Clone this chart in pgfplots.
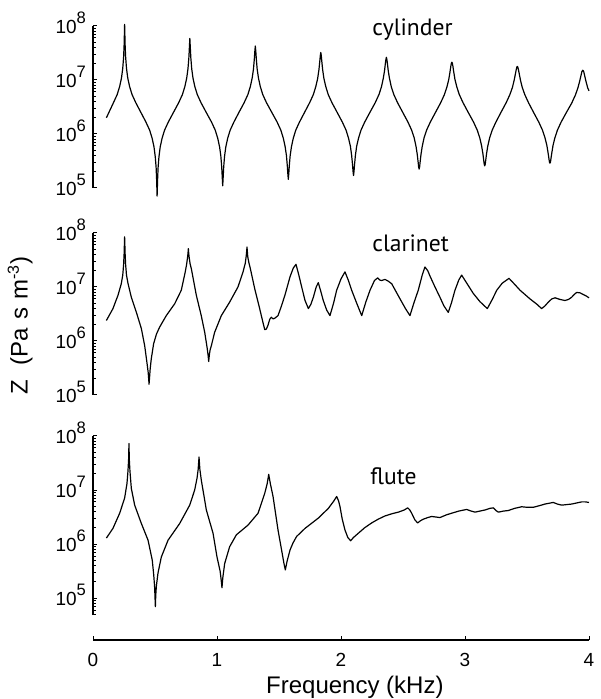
\documentclass[border=0pt]{standalone}
\usepackage{pgfplots}
\pgfplotsset{compat=1.18}
\usepackage{fontspec}
\setmainfont{Liberation Sans}
\newfontfamily\labelfont{PT Sans}

% 10^n written in the text font, exponent nearly full size as in the original
\newcommand{\tenpow}[1]{10\raisebox{4.8pt}{\fontsize{8.3pt}{8.3pt}\selectfont #1}}
\newcommand{\tickfont}{\fontsize{9.5pt}{10pt}\selectfont}
\newcommand{\panelfont}{\labelfont\fontsize{11.8pt}{12pt}\selectfont}

\pgfplotsset{every axis/.append style={
  axis line style={-, line width=0.6pt},
  tick style={line width=0.5pt, black},
  tick align=inside, major tick length=2.2pt, minor tick length=1.3pt,
}}

\begin{document}
\begin{tikzpicture}

% cylinder
\begin{axis}[scale only axis, width=248pt, height=81pt,
  at={(0,0)}, anchor=north west,
  xmin=0, xmax=4, ymode=log, ymin=1e5, ymax=1e8,
  axis x line=none, axis y line*=left, clip=false,
  ytick={1e5,1e6,1e7,1e8},
  yticklabels={\tenpow{5},\tenpow{6},\tenpow{7},\tenpow{8}},
  minor ytick={2e5,3e5,4e5,5e5,6e5,7e5,8e5,9e5,2e6,3e6,4e6,5e6,6e6,7e6,8e6,9e6,2e7,3e7,4e7,5e7,6e7,7e7,8e7,9e7},
  yticklabel style={anchor=base east, yshift=-3.6pt, font=\tickfont}]
\addplot[black, line width=0.6pt, line join=round] table[x index=0, y expr=10^\thisrowno{1}] {
f logZ
0.108 6.30
0.165 6.58
0.195 6.73
0.215 6.88
0.230 7.04
0.240 7.22
0.247 7.43
0.251 7.65
0.255 8.03
0.259 7.65
0.263 7.43
0.270 7.22
0.280 7.04
0.295 6.88
0.315 6.73
0.345 6.58
0.386 6.40
0.427 6.22
0.457 6.07
0.477 5.92
0.492 5.76
0.502 5.58
0.509 5.38
0.513 5.16
0.517 4.85
0.521 5.16
0.525 5.38
0.532 5.58
0.542 5.76
0.557 5.92
0.577 6.07
0.607 6.22
0.649 6.40
0.691 6.58
0.721 6.73
0.741 6.88
0.756 7.04
0.766 7.21
0.773 7.41
0.777 7.59
0.781 7.77
0.785 7.59
0.789 7.41
0.796 7.21
0.806 7.04
0.821 6.88
0.841 6.73
0.871 6.58
0.913 6.40
0.956 6.22
0.986 6.07
1.006 5.92
1.021 5.76
1.031 5.59
1.038 5.39
1.042 5.21
1.046 5.04
1.050 5.21
1.054 5.39
1.061 5.59
1.071 5.76
1.086 5.92
1.106 6.07
1.136 6.22
1.177 6.40
1.219 6.58
1.249 6.73
1.269 6.88
1.284 7.04
1.294 7.20
1.301 7.39
1.305 7.53
1.309 7.63
1.313 7.53
1.317 7.39
1.324 7.20
1.334 7.04
1.349 6.88
1.369 6.73
1.399 6.58
1.442 6.40
1.485 6.22
1.515 6.07
1.535 5.92
1.550 5.76
1.560 5.60
1.567 5.41
1.571 5.27
1.575 5.16
1.579 5.27
1.583 5.41
1.590 5.60
1.600 5.76
1.615 5.92
1.635 6.07
1.665 6.22
1.706 6.40
1.747 6.58
1.777 6.73
1.797 6.88
1.812 7.03
1.822 7.19
1.829 7.35
1.833 7.45
1.837 7.51
1.841 7.45
1.845 7.35
1.852 7.19
1.862 7.03
1.877 6.88
1.897 6.73
1.927 6.58
1.969 6.40
2.011 6.22
2.041 6.07
2.061 5.92
2.076 5.77
2.086 5.60
2.093 5.43
2.097 5.31
2.101 5.23
2.105 5.31
2.109 5.43
2.116 5.60
2.126 5.77
2.141 5.92
2.161 6.07
2.191 6.22
2.233 6.40
2.276 6.58
2.306 6.73
2.326 6.87
2.341 7.03
2.351 7.17
2.358 7.31
2.362 7.38
2.366 7.42
2.370 7.38
2.374 7.31
2.381 7.17
2.391 7.03
2.406 6.87
2.426 6.73
2.456 6.58
2.498 6.40
2.540 6.22
2.570 6.07
2.590 5.93
2.605 5.77
2.615 5.62
2.622 5.48
2.626 5.39
2.630 5.35
2.634 5.39
2.638 5.48
2.645 5.62
2.655 5.77
2.670 5.93
2.690 6.07
2.720 6.22
2.762 6.40
2.804 6.58
2.834 6.73
2.854 6.87
2.869 7.01
2.879 7.15
2.886 7.26
2.890 7.31
2.894 7.33
2.898 7.31
2.902 7.26
2.909 7.15
2.919 7.01
2.934 6.87
2.954 6.73
2.984 6.58
3.026 6.40
3.069 6.22
3.099 6.07
3.119 5.93
3.134 5.78
3.144 5.64
3.151 5.51
3.155 5.44
3.159 5.41
3.163 5.44
3.167 5.51
3.174 5.64
3.184 5.78
3.199 5.93
3.219 6.07
3.249 6.22
3.290 6.40
3.332 6.58
3.362 6.73
3.382 6.86
3.397 7.00
3.407 7.12
3.414 7.20
3.418 7.24
3.422 7.25
3.426 7.24
3.430 7.20
3.437 7.12
3.447 7.00
3.462 6.86
3.482 6.73
3.512 6.58
3.553 6.40
3.595 6.22
3.625 6.07
3.645 5.93
3.660 5.79
3.670 5.65
3.677 5.54
3.681 5.48
3.685 5.46
3.689 5.48
3.693 5.54
3.700 5.65
3.710 5.79
3.725 5.93
3.745 6.07
3.775 6.22
3.818 6.40
3.860 6.57
3.890 6.72
3.910 6.85
3.925 6.98
3.935 7.08
3.942 7.15
3.946 7.17
3.950 7.18
3.954 7.17
3.958 7.15
3.965 7.08
3.975 6.98
3.990 6.85
4.000 6.80
};
\node[anchor=base west, inner sep=0pt, font=\panelfont] at (axis cs:2.25,6.53e7) {cylinder};
\end{axis}

% clarinet
\begin{axis}[scale only axis, width=248pt, height=81pt,
  at={(0,-103.5pt)}, anchor=north west,
  xmin=0, xmax=4, ymode=log, ymin=1e5, ymax=1e8,
  axis x line=none, axis y line*=left, clip=false,
  ytick={1e5,1e6,1e7,1e8},
  yticklabels={\tenpow{5},\tenpow{6},\tenpow{7},\tenpow{8}},
  minor ytick={2e5,3e5,4e5,5e5,6e5,7e5,8e5,9e5,2e6,3e6,4e6,5e6,6e6,7e6,8e6,9e6,2e7,3e7,4e7,5e7,6e7,7e7,8e7,9e7},
  yticklabel style={anchor=base east, yshift=-3.6pt, font=\tickfont},
  ylabel={Z\hspace{0.6em}(Pa\hspace{0.33em}s\hspace{0.33em}m\textsuperscript{-3})},
  ylabel style={at={(axis description cs:-0.121,0.43)}, anchor=south, inner sep=0pt, font=\fontsize{12pt}{12.5pt}\selectfont}]
\addplot[black, line width=0.6pt, line join=round] table[x index=0, y expr=10^\thisrowno{1}] {
f logZ
0.108 6.38
0.161 6.60
0.202 6.85
0.228 7.06
0.240 7.22
0.247 7.42
0.251 7.62
0.255 7.93
0.259 7.62
0.263 7.42
0.270 7.22
0.282 7.07
0.309 6.81
0.350 6.53
0.390 6.23
0.417 5.91
0.435 5.60
0.445 5.42
0.449 5.30
0.452 5.20
0.456 5.32
0.461 5.48
0.470 5.67
0.489 5.95
0.512 6.13
0.538 6.26
0.591 6.47
0.659 6.69
0.712 6.94
0.744 7.28
0.755 7.42
0.762 7.54
0.766 7.62
0.769 7.71
0.772 7.62
0.776 7.54
0.783 7.43
0.793 7.34
0.833 6.85
0.873 6.47
0.901 6.16
0.920 5.88
0.928 5.74
0.933 5.62
0.938 5.74
0.945 5.84
0.954 5.91
0.981 6.16
1.035 6.47
1.102 6.72
1.169 7.00
1.210 7.28
1.228 7.44
1.236 7.58
1.242 7.74
1.248 7.56
1.257 7.45
1.269 7.34
1.304 6.97
1.344 6.60
1.370 6.35
1.385 6.21
1.398 6.22
1.411 6.29
1.425 6.40
1.438 6.44
1.452 6.41
1.465 6.42
1.492 6.47
1.520 6.65
1.548 6.85
1.589 7.19
1.615 7.35
1.637 7.42
1.660 7.22
1.683 7.00
1.710 6.75
1.737 6.60
1.757 6.68
1.777 6.81
1.800 7.00
1.817 7.08
1.837 6.92
1.857 6.75
1.885 6.57
1.911 6.47
1.940 6.70
1.965 6.94
2.000 7.15
2.032 7.28
2.060 7.12
2.086 6.94
2.130 6.68
2.167 6.47
2.200 6.72
2.234 6.94
2.270 7.12
2.296 7.17
2.312 7.13
2.328 7.12
2.355 7.14
2.380 7.11
2.409 7.06
2.440 6.93
2.476 6.78
2.520 6.60
2.556 6.47
2.590 6.72
2.623 6.94
2.655 7.22
2.677 7.37
2.700 7.30
2.718 7.20
2.758 7.00
2.798 6.81
2.830 6.65
2.865 6.53
2.890 6.70
2.919 6.94
2.950 7.13
2.973 7.22
3.020 7.05
3.067 6.88
3.120 6.73
3.180 6.60
3.220 6.77
3.256 6.94
3.300 7.07
3.355 7.16
3.400 7.05
3.444 6.94
3.524 6.78
3.580 6.68
3.618 6.60
3.645 6.65
3.672 6.72
3.700 6.78
3.726 6.80
3.765 6.77
3.806 6.75
3.835 6.77
3.860 6.81
3.880 6.86
3.901 6.90
3.930 6.89
3.954 6.86
3.980 6.83
4.000 6.80
};
\node[anchor=base west, inner sep=0pt, font=\panelfont] at (axis cs:2.25,4.49e7) {clarinet};
\end{axis}

% flute
\begin{axis}[scale only axis, width=248pt, height=89.5pt,
  at={(0,-205pt)}, anchor=north west,
  xmin=0, xmax=4, ymode=log, ymin=4.85e4, ymax=1e8,
  axis x line=none, axis y line*=left, clip=false,
  ytick={1e5,1e6,1e7,1e8},
  yticklabels={\tenpow{5},\tenpow{6},\tenpow{7},\tenpow{8}},
  minor ytick={5e4,6e4,7e4,8e4,9e4,2e5,3e5,4e5,5e5,6e5,7e5,8e5,9e5,2e6,3e6,4e6,5e6,6e6,7e6,8e6,9e6,2e7,3e7,4e7,5e7,6e7,7e7,8e7,9e7},
  yticklabel style={anchor=base east, yshift=-3.6pt, font=\tickfont}]
\addplot[black, line width=0.6pt, line join=round] table[x index=0, y expr=10^\thisrowno{1}] {
f logZ
0.108 6.11
0.161 6.29
0.215 6.57
0.255 6.85
0.274 7.12
0.282 7.35
0.287 7.56
0.290 7.86
0.293 7.56
0.298 7.35
0.309 7.03
0.336 6.72
0.390 6.38
0.444 6.07
0.478 5.70
0.490 5.42
0.497 5.20
0.500 5.02
0.503 4.84
0.506 5.05
0.511 5.22
0.524 5.46
0.551 5.76
0.605 6.07
0.699 6.38
0.780 6.72
0.820 7.00
0.839 7.22
0.848 7.38
0.855 7.61
0.862 7.38
0.873 7.19
0.914 6.63
0.968 6.20
1.000 5.76
1.025 5.50
1.034 5.33
1.040 5.19
1.047 5.38
1.062 5.64
1.102 5.95
1.156 6.17
1.250 6.35
1.331 6.57
1.385 6.94
1.405 7.12
1.417 7.29
1.430 7.12
1.452 6.88
1.492 6.26
1.520 5.90
1.540 5.64
1.551 5.52
1.565 5.68
1.589 5.89
1.613 6.02
1.642 6.14
1.710 6.29
1.817 6.48
1.898 6.66
1.940 6.79
1.965 6.88
1.980 6.80
1.992 6.69
2.010 6.46
2.032 6.26
2.055 6.12
2.078 6.06
2.100 6.12
2.140 6.20
2.190 6.30
2.247 6.39
2.300 6.46
2.355 6.52
2.410 6.56
2.462 6.59
2.510 6.63
2.538 6.67
2.555 6.63
2.570 6.57
2.595 6.45
2.618 6.39
2.640 6.43
2.664 6.46
2.700 6.49
2.731 6.51
2.765 6.50
2.798 6.49
2.850 6.54
2.892 6.57
2.950 6.61
3.013 6.64
3.050 6.61
3.081 6.59
3.120 6.61
3.161 6.63
3.200 6.66
3.228 6.67
3.250 6.62
3.269 6.59
3.310 6.61
3.349 6.62
3.400 6.66
3.457 6.69
3.500 6.68
3.551 6.68
3.600 6.71
3.645 6.74
3.690 6.76
3.712 6.77
3.745 6.74
3.780 6.72
3.820 6.73
3.860 6.74
3.900 6.76
3.941 6.78
3.970 6.78
4.000 6.77
};
\node[anchor=base west, inner sep=0pt, font=\panelfont] at (axis cs:2.234,1.28e7) {flute};
\end{axis}

% shared frequency axis, set apart below the panels
\begin{axis}[scale only axis, width=248pt, height=10pt,
  at={(0,-307pt)}, anchor=south west,
  xmin=0, xmax=4, ymin=0, ymax=1,
  axis y line=none, axis x line*=bottom,
  xtick={0,1,2,3,4}, xticklabels={0,1,2,3,4},
  minor x tick num=0, minor xtick={},
  xticklabel style={yshift=-3.3pt, font=\tickfont},
  xlabel={Frequency (kHz)},
  xlabel style={at={(axis description cs:0.528,0)}, anchor=base, yshift=-26.5pt, inner sep=0pt, font=\fontsize{12pt}{13pt}\selectfont}]
\end{axis}

% keep the page as large as the original figure
\path (-46.5pt,13pt) rectangle (251.5pt,-336.5pt);
\end{tikzpicture}
\end{document}
